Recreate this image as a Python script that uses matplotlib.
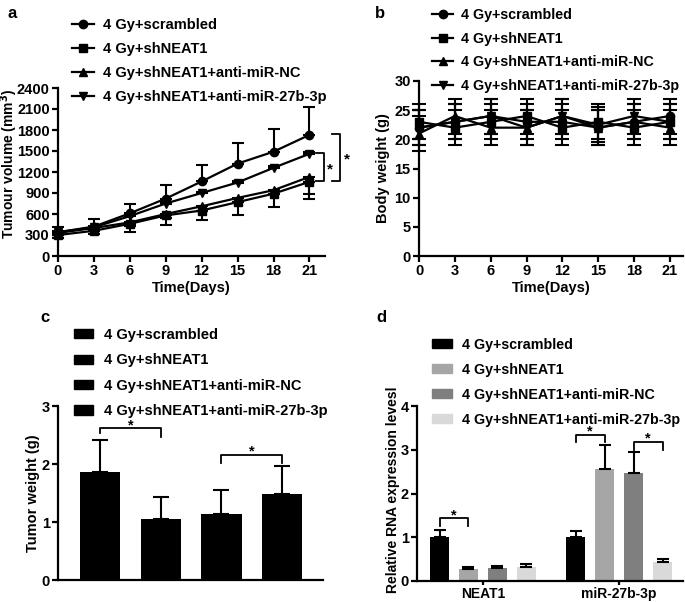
import numpy as np
import matplotlib
matplotlib.use('Agg')
import matplotlib.pyplot as plt
import matplotlib.transforms as mtransforms
from matplotlib.lines import Line2D
from matplotlib.patches import Patch

plt.rcParams['font.family'] = ['Liberation Sans', 'DejaVu Sans']
plt.rcParams['font.weight'] = 'bold'
plt.rcParams['axes.labelweight'] = 'bold'

groups = ['4 Gy+scrambled', '4 Gy+shNEAT1', '4 Gy+shNEAT1+anti-miR-NC', '4 Gy+shNEAT1+anti-miR-27b-3p']
markers = ['o', 's', '^', 'v']

# panel a: tumour volume
days = [0, 3, 6, 9, 12, 15, 18, 21]
vol_scr = [340, 420, 610, 820, 1065, 1320, 1490, 1730]
vol_sh = [300, 360, 460, 580, 650, 770, 890, 1060]
vol_nc = [330, 400, 480, 600, 710, 830, 940, 1130]
vol_27b = [340, 410, 570, 750, 900, 1050, 1260, 1460]
vol_err_lo = [[0] * 8, [40, 40, 110, 130, 140, 180, 190, 240], [30, 30, 50, 50, 60, 60, 60, 250], [0] * 8]
vol_err_hi = [[80, 110, 140, 190, 235, 300, 320, 400], [0] * 8, [0] * 8, [20, 20, 20, 20, 20, 20, 20, 20]]

# panel b: body weight
bw_scr = [22, 23, 24, 23, 23, 22, 23, 24]
bw_sh = [23, 22, 23, 24, 22, 23, 22, 23]
bw_nc = [21, 24, 22, 22, 24, 22, 23, 22]
bw_27b = [22, 23, 24, 22, 24, 22.5, 24, 23]
bw_err = 3

# panel c: tumour weight
tw = [1.87, 1.06, 1.14, 1.49]
tw_err = [0.55, 0.37, 0.41, 0.48]

# panel d: relative RNA
genes = ['NEAT1', 'miR-27b-3p']
rna = [[1.0, 1.0], [0.28, 2.55], [0.30, 2.47], [0.33, 0.44]]
rna_err = [[0.17, 0.15], [0.04, 0.55], [0.04, 0.48], [0.05, 0.06]]
rna_colors = ['#000000', '#a6a6a6', '#7f7f7f', '#d9d9d9']

fig = plt.figure(figsize=(6.85, 6.02), dpi=100)
W, H = 685, 602
FS = 10.5

def add_ax(x0, x1, ytop, ybot):
    return fig.add_axes([x0 / W, 1 - ybot / H, (x1 - x0) / W, (ybot - ytop) / H])

def style(ax):
    for s in ['top', 'right']:
        ax.spines[s].set_visible(False)
    for s in ['left', 'bottom']:
        ax.spines[s].set_linewidth(1.6)
    ax.tick_params(width=1.6, length=4, labelsize=FS, pad=2)

def bracket(ax, x0, x1, y, leg0, leg1):
    ax.plot([x0, x0, x1, x1], [y - leg0, y, y, y - leg1], color='black', lw=1.3, clip_on=False)
    # star sits just above the bracket (shift down to drop the empty descender room)
    tr = ax.transData + mtransforms.ScaledTranslation(0, -4 / 100, fig.dpi_scale_trans)
    ax.text((x0 + x1) / 2, y, '*', ha='center', va='bottom', fontsize=10.5, transform=tr)

def legend(handles, x, y, fs=FS, **kw):
    fig.legend(handles, groups, loc='upper left', bbox_to_anchor=(x / W, 1 - y / H), frameon=False,
               fontsize=fs, borderpad=0, borderaxespad=0, **kw)

# ---- a
ax = add_ax(58, 325, 88, 256)
style(ax)
series = [vol_scr, vol_sh, vol_nc, vol_27b]
for i, v in enumerate(series):
    ax.errorbar(days, v, yerr=[vol_err_lo[i], vol_err_hi[i]], color='black', marker=markers[i],
                ms=6, lw=1.6, capsize=4, capthick=1.5, elinewidth=1.5, clip_on=False, zorder=3)
ax.set_xlim(0, 22.3)
ax.set_ylim(0, 2400)
ax.set_xticks(days)
ax.set_yticks(np.arange(0, 2401, 300))
ax.set_xlabel('Time(Days)', fontsize=FS, labelpad=2)
ax.set_ylabel('Tumour volume (mm$^3$)', fontsize=10)
ax.yaxis.set_label_coords(-0.142, 0.55)
# significance brackets
for x, ytop, ybot, sx, sy in [(22.2, 1470, 1075, 22.75, 1240), (23.55, 1745, 1075, 24.1, 1380)]:
    ax.plot([x - 0.65, x, x, x - 0.65], [ytop, ytop, ybot, ybot], color='black', lw=1.3, clip_on=False)
    ax.text(sx, sy, '*', ha='center', va='center', fontsize=11)
handles = [Line2D([], [], color='black', marker=m, ms=6, lw=1.6) for m in markers]
legend(handles, 72, 18, handlelength=1.5, handletextpad=0.6, labelspacing=0.68)

# ---- b
ax = add_ax(419, 683, 81, 256)
style(ax)
for i, v in enumerate([bw_scr, bw_sh, bw_nc, bw_27b]):
    ax.errorbar(days, v, yerr=bw_err, color='black', marker=markers[i], ms=6, lw=1.6,
                capsize=5, capthick=1.5, elinewidth=1.5, clip_on=False, zorder=3)
ax.set_xlim(0, 22.1)
ax.set_ylim(0, 30)
ax.set_xticks(days)
ax.set_yticks(np.arange(0, 31, 5))
ax.set_xlabel('Time(Days)', fontsize=FS, labelpad=2)
ax.set_ylabel('Body weight (g)', fontsize=FS)
ax.yaxis.set_label_coords(-0.11, 0.5)
legend(handles, 432, 8, fs=10.3, handlelength=1.5, handletextpad=0.55, labelspacing=0.68)

# ---- c
ax = add_ax(58, 323, 406, 580)
style(ax)
xc = np.arange(4)
ax.bar(xc, tw, width=0.66, color='black')
ax.errorbar(xc, tw, yerr=[[0] * 4, tw_err], fmt='none', ecolor='black', capsize=6, capthick=1.5, elinewidth=1.5)
ax.set_xlim(-0.69, 3.67)
ax.set_ylim(0, 3)
ax.set_xticks([])
ax.set_yticks([0, 1, 2, 3])
ax.set_ylabel('Tumor weight (g)', fontsize=FS)
ax.yaxis.set_label_coords(-0.068, 0.5)
bracket(ax, 0, 1, 2.62, 0.08, 0.15)
bracket(ax, 2, 3, 2.16, 0.15, 0.15)
phandles = [Patch(color='black') for _ in groups]
legend(phandles, 74, 328, handlelength=1.3, handleheight=0.6, handletextpad=0.75, labelspacing=0.78)

# ---- d
ax = add_ax(417, 683, 406, 581)
style(ax)
ax.tick_params(axis='x', length=3, pad=1)
xg = np.arange(len(genes))
step, bw = 0.213, 0.135
for i in range(4):
    xs = xg + (i - 1.5) * step
    ax.bar(xs, rna[i], width=bw, color=rna_colors[i])
    ax.errorbar(xs, rna[i], yerr=[[0, 0], rna_err[i]], fmt='none', ecolor='black', capsize=4,
                capthick=1.5, elinewidth=1.5)
ax.set_xlim(-0.485, 1.47)
ax.set_ylim(0, 4)
ax.set_xticks(xg)
ax.set_xticklabels(genes, fontsize=10)
ax.set_yticks([0, 1, 2, 3, 4])
ax.set_ylabel('Relative RNA expression levesl', fontsize=10)
ax.yaxis.set_label_coords(-0.064, 0.52)
bracket(ax, -1.5 * step, -0.5 * step, 1.44, 0.18, 0.18)
bracket(ax, 1 - 1.5 * step, 1 - 0.5 * step, 3.34, 0.16, 0.16)
bracket(ax, 1 + 0.5 * step, 1 + 1.5 * step, 3.18, 0.19, 0.19)
dhandles = [Patch(color=c) for c in rna_colors]
legend(dhandles, 432, 338, fs=10.3, handlelength=1.4, handleheight=0.6, handletextpad=0.7, labelspacing=0.76)

# panel letters
for lbl, x, y in [('a', 8, 14), ('b', 375, 14), ('c', 40, 318), ('d', 376, 318)]:
    fig.text(x / W, 1 - y / H, lbl, fontsize=12, fontweight='bold', va='center', ha='left')

fig.savefig('out.png', dpi=100)
